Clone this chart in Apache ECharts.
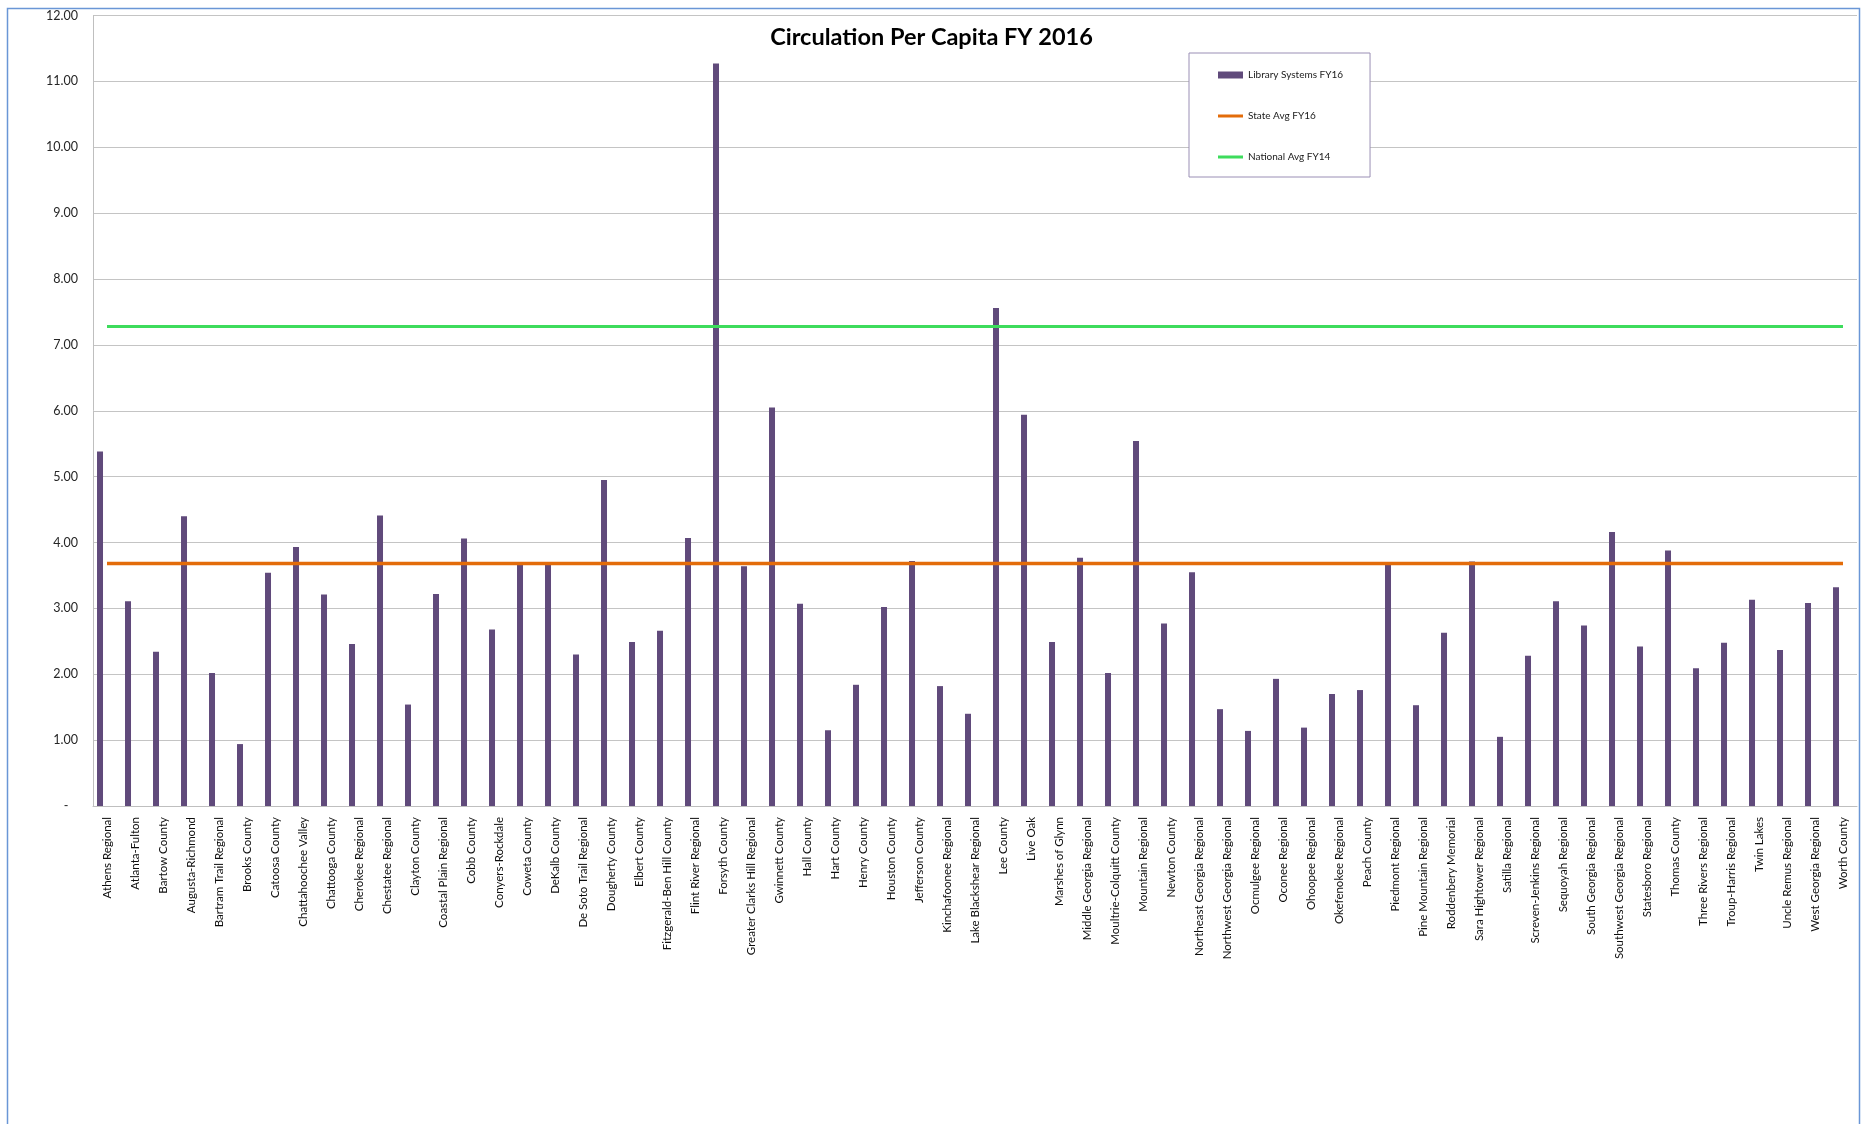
<!DOCTYPE html>
<html>
<head>
<meta charset="utf-8">
<script src="https://cdn.jsdelivr.net/npm/echarts@6/dist/echarts.min.js"></script>
<style>
html,body{margin:0;padding:0;background:#fff;}
#chart{width:1863px;height:1124px;}
</style>
</head>
<body>
<div id="chart"></div>
<script>
const categories = [
  "Athens Regional","Atlanta-Fulton","Bartow County","Augusta-Richmond","Bartram Trail Regional",
  "Brooks County","Catoosa County","Chattahoochee Valley","Chattooga County","Cherokee Regional",
  "Chestatee Regional","Clayton County","Coastal Plain Regional","Cobb County","Conyers-Rockdale",
  "Coweta County","DeKalb County","De Soto Trail Regional","Dougherty County","Elbert County",
  "Fitzgerald-Ben Hill County","Flint River Regional","Forsyth County","Greater Clarks Hill Regional","Gwinnett County",
  "Hall County","Hart County","Henry County","Houston County","Jefferson County",
  "Kinchafoonee Regional","Lake Blackshear Regional","Lee County","Live Oak","Marshes of Glynn",
  "Middle Georgia Regional","Moultrie-Colquitt County","Mountain Regional","Newton County","Northeast Georgia Regional",
  "Northwest Georgia Regional","Ocmulgee Regional","Oconee Regional","Ohoopee Regional","Okefenokee Regional",
  "Peach County","Piedmont Regional","Pine Mountain Regional","Roddenbery Memorial","Sara Hightower Regional",
  "Satilla Regional","Screven-Jenkins Regional","Sequoyah Regional","South Georgia Regional","Southwest Georgia Regional",
  "Statesboro Regional","Thomas County","Three Rivers Regional","Troup-Harris Regional","Twin Lakes",
  "Uncle Remus Regional","West Georgia Regional","Worth County"
];

const librarySystemsFY16 = [
  5.38, 3.11, 2.34, 4.40, 2.02,
  0.94, 3.54, 3.93, 3.21, 2.46,
  4.41, 1.54, 3.22, 4.06, 2.68,
  3.68, 3.68, 2.30, 4.95, 2.49,
  2.66, 4.07, 11.27, 3.64, 6.05,
  3.07, 1.15, 1.84, 3.02, 3.72,
  1.82, 1.40, 7.56, 5.94, 2.49,
  3.77, 2.02, 5.54, 2.77, 3.55,
  1.47, 1.14, 1.93, 1.19, 1.70,
  1.76, 3.67, 1.53, 2.63, 3.71,
  1.05, 2.28, 3.11, 2.74, 4.16,
  2.42, 3.88, 2.09, 2.48, 3.13,
  2.37, 3.08, 3.32
];

const stateAvgFY16 = 3.68;
const nationalAvgFY14 = 7.28;

const yTicks = { min: 0, max: 12, interval: 1 };

const stateSeries = categories.map(() => stateAvgFY16);
const nationalSeries = categories.map(() => nationalAvgFY14);

const chart = echarts.init(document.getElementById('chart'));
const font = 'Lato, "Open Sans", sans-serif';
// thin horizontal line icon inside a 25x7 box (tiny corner points keep the box size)
const lineIcon = 'path://M0,0L0.01,0L0.01,0.01Z M0,2L25,2L25,5L0,5Z M24.99,6.99L25,6.99L25,7Z';

chart.setOption({
  backgroundColor: '#ffffff',
  animation: false,
  textStyle: { fontFamily: font },
  title: {
    text: 'Circulation Per Capita FY 2016',
    left: 'center',
    top: 20,
    textStyle: { fontFamily: font, fontSize: 23.5, fontWeight: 'bold', color: '#000000' }
  },
  graphic: [{
    type: 'rect',
    left: 5, top: 6,
    shape: { width: 1852, height: 1130 },
    style: { fill: 'none', stroke: '#6a96d6', lineWidth: 1.5 },
    silent: true,
    z: -1
  }],
  legend: {
    orient: 'vertical',
    left: 1189,
    top: 53,
    padding: [17, 27, 15, 29],
    itemGap: 31,
    itemWidth: 25,
    itemHeight: 7,
    backgroundColor: '#ffffff',
    borderColor: '#9a8fb5',
    borderWidth: 1,
    borderRadius: 0,
    data: [
      { name: 'Library Systems FY16', icon: 'rect' },
      { name: 'State Avg FY16', icon: lineIcon },
      { name: 'National Avg FY14', icon: lineIcon }
    ],
    textStyle: { fontFamily: font, fontSize: 10, color: '#1a1a1a' }
  },
  grid: { left: 93, right: 6, top: 15.5, bottom: 318, containLabel: false },
  xAxis: {
    type: 'category',
    data: categories,
    boundaryGap: true,
    axisLine: { show: true, lineStyle: { color: '#bfbfbf', width: 1 } },
    axisTick: { show: false },
    axisLabel: {
      interval: 0,
      rotate: 90,
      margin: 11,
      fontFamily: font,
      fontSize: 11.5,
      color: '#0d0d0d'
    }
  },
  yAxis: {
    type: 'value',
    min: yTicks.min,
    max: yTicks.max,
    interval: yTicks.interval,
    axisLine: { show: true, lineStyle: { color: '#bfbfbf', width: 1 } },
    axisTick: { show: false },
    splitLine: { show: true, lineStyle: { color: '#c4c4c4', width: 1 } },
    axisLabel: {
      margin: 15,
      fontFamily: font,
      fontSize: 12.5,
      color: '#262626',
      formatter: v => v === 0 ? '-   ' : v.toFixed(2)
    }
  },
  series: [
    {
      name: 'Library Systems FY16',
      type: 'bar',
      data: librarySystemsFY16,
      barWidth: 6,
      barGap: '133%',
      itemStyle: { color: '#604a7b' },
      z: 2
    },
    {
      name: 'spacer',
      type: 'bar',
      data: [],
      barWidth: 6,
      silent: true
    },
    {
      name: 'State Avg FY16',
      type: 'line',
      data: stateSeries,
      symbol: 'none',
      lineStyle: { color: '#e36c0a', width: 3.5 },
      itemStyle: { color: '#e36c0a' },
      z: 3
    },
    {
      name: 'National Avg FY14',
      type: 'line',
      data: nationalSeries,
      symbol: 'none',
      lineStyle: { color: '#3ddc5c', width: 3 },
      itemStyle: { color: '#3ddc5c' },
      z: 3
    }
  ]
});
</script>
</body>
</html>
